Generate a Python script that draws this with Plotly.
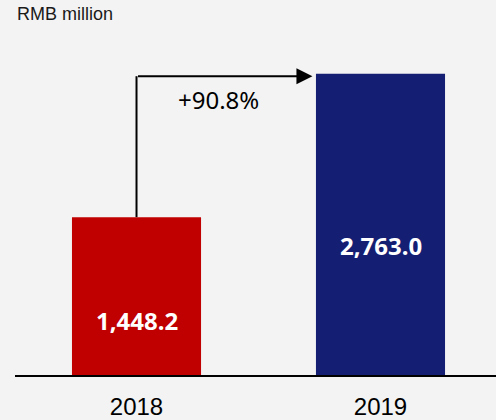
import plotly.graph_objects as go

# Revenue, RMB million
years = ["2018", "2019"]
revenue = [1448.2, 2763.0]
bar_colors = ["#C00000", "#141E73"]
growth_label = "+90.8%"
unit_label = "RMB million"

x_pos = list(range(len(years)))
labels = [f"{v:,.1f}" for v in revenue]

fig = go.Figure()
fig.add_trace(go.Bar(
    x=x_pos, y=revenue, width=0.529,
    marker=dict(color=bar_colors, line=dict(width=0)),
    hoverinfo="skip",
))

# value labels inside the bars (fraction of bar height for placement)
label_frac = [0.346, 0.43]
annotations = []
for xi, v, t, f in zip(x_pos, revenue, labels, label_frac):
    annotations.append(dict(
        x=xi, y=v * f, xref="x", yref="y", text=t, showarrow=False,
        font=dict(family="Noto Sans", size=24, color="white", weight="bold"),
        xanchor="center", yanchor="middle",
    ))

# growth arrow: up from the 2018 bar, then across toward the 2019 bar
arrow_y = revenue[1] * 0.992
tip_x = 0.721
shapes = [dict(
    type="line", xref="x", yref="y", x0=0, x1=0, y0=revenue[0], y1=arrow_y,
    line=dict(color="black", width=2),
)]
annotations.append(dict(
    x=tip_x, y=arrow_y, ax=0, ay=arrow_y, xref="x", yref="y",
    axref="x", ayref="y", text="", showarrow=True,
    arrowhead=2, arrowsize=1.6, arrowwidth=2, arrowcolor="black", standoff=0,
))
annotations.append(dict(
    x=0.338, y=revenue[1] * 0.914, xref="x", yref="y", text=growth_label,
    showarrow=False, font=dict(family="Noto Sans", size=24, color="black"),
    xanchor="center", yanchor="middle",
))
annotations.append(dict(
    x=0.0, y=1.077, xref="paper", yref="paper", text=unit_label,
    showarrow=False, font=dict(family="Liberation Sans", size=18, color="#1a1a1a"),
    xanchor="left", yanchor="middle",
))

fig.update_layout(
    width=496, height=420,
    margin=dict(l=15, r=0, t=40, b=43),
    paper_bgcolor="#f3f3f3", plot_bgcolor="#f3f3f3",
    showlegend=False,
    annotations=annotations, shapes=shapes,
    xaxis=dict(
        range=[-0.498, 1.4734], tickvals=x_pos, ticktext=years,
        showgrid=False, zeroline=False, showline=True,
        linecolor="black", linewidth=2, ticks="",
        ticklabelstandoff=9,
        tickfont=dict(family="Liberation Sans", size=24, color="black"),
    ),
    yaxis=dict(
        range=[0, 3073], visible=False, showgrid=False, zeroline=False,
    ),
)

fig.write_html("out.html")
